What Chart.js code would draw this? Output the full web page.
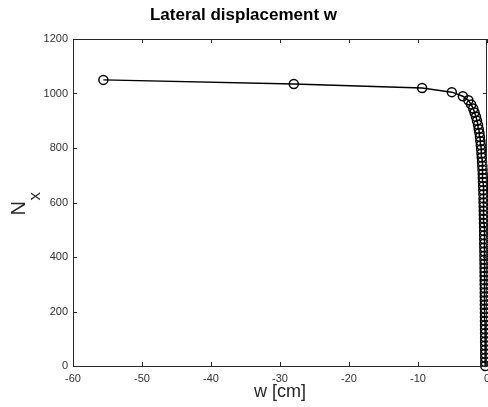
<!DOCTYPE html>
<html>
<head>
<meta charset="utf-8">
<script src="https://cdn.jsdelivr.net/npm/chart.js@4"></script>
<style>
  html, body { margin: 0; padding: 0; background: #fff; overflow: hidden; }
  #wrap { width: 488px; height: 407px; }
</style>
</head>
<body>
<div id="wrap"><canvas id="chart"></canvas></div>
<script>
// Axial load N_x (one value per step)
const loads = [
  0, 15, 30, 45, 60, 75, 90, 105, 120, 135, 150, 165, 180, 195, 210,
  225, 240, 255, 270, 285, 300, 315, 330, 345, 360, 375, 390, 405, 420, 435,
  450, 465, 480, 495, 510, 525, 540, 555, 570, 585, 600, 615, 630, 645, 660,
  675, 690, 705, 720, 735, 750, 765, 780, 795, 810, 825, 840, 855, 870, 885,
  900, 915, 930, 945, 960, 975, 990, 1005, 1020, 1035, 1050
];

// Lateral displacement w [cm]
const displacement = [
  -0.25, -0.252, -0.254, -0.257, -0.26, -0.264, -0.267, -0.27, -0.275, -0.28, -0.285, -0.29, -0.295, -0.30, -0.305,
  -0.31, -0.315, -0.32, -0.325, -0.33, -0.335, -0.34, -0.345, -0.35, -0.355, -0.36, -0.37, -0.375, -0.38, -0.39,
  -0.40, -0.405, -0.41, -0.42, -0.43, -0.44, -0.45, -0.46, -0.47, -0.48, -0.49, -0.50, -0.52, -0.54, -0.56,
  -0.58, -0.60, -0.62, -0.65, -0.68, -0.72, -0.76, -0.80, -0.85, -0.90, -0.96, -1.02, -1.10, -1.20, -1.30,
  -1.45, -1.60, -1.80, -2.00, -2.30, -2.70, -3.50, -5.10, -9.40, -28.0, -55.6
];

const xTicks = [-60, -50, -40, -30, -20, -10, 0];
const yTicks = [0, 200, 400, 600, 800, 1000, 1200];

const AXIS_COLOR = "#262626";
const TICK_FONT  = "'Liberation Sans', Arial, sans-serif";

// box, inward ticks and the axis labels (Octave style)
const boxPlugin = {
  id: "box",
  afterDraw: function(chart) {
    const ctx = chart.ctx;
    const a   = chart.chartArea;
    const sx  = chart.scales.x;
    const sy  = chart.scales.y;
    const len = 4;

    ctx.save();
    ctx.strokeStyle = AXIS_COLOR;
    ctx.lineWidth = 1;
    ctx.strokeRect(a.left + 0.5, a.top + 0.5, a.right - a.left - 1, a.bottom - a.top);

    ctx.beginPath();
    xTicks.forEach(function(v) {
      const px = Math.round(sx.getPixelForValue(v)) + 0.5;
      ctx.moveTo(px, a.bottom); ctx.lineTo(px, a.bottom - len);
      ctx.moveTo(px, a.top);    ctx.lineTo(px, a.top + len);
    });
    yTicks.forEach(function(v) {
      const py = Math.round(sy.getPixelForValue(v)) + 0.5;
      ctx.moveTo(a.left, py);  ctx.lineTo(a.left + len, py);
      ctx.moveTo(a.right, py); ctx.lineTo(a.right - len, py);
    });
    ctx.stroke();

    // x label
    ctx.fillStyle = AXIS_COLOR;
    ctx.textAlign = "center";
    ctx.textBaseline = "middle";
    ctx.font = "18px " + TICK_FONT;
    ctx.fillText("w [cm]", (a.left + a.right) / 2, 392);

    // y label N_x, rotated
    ctx.translate(25, (a.top + a.bottom) / 2 + 13);
    ctx.rotate(-Math.PI / 2);
    ctx.textAlign = "left";
    ctx.textBaseline = "alphabetic";
    ctx.font = "20px " + TICK_FONT;
    ctx.fillText("N", 0, 0);
    ctx.font = "17px " + TICK_FONT;
    ctx.fillText("x", 15, 15);
    ctx.restore();
  }
};

function plainTick(value) {
  return String(value);
}

window.onload = function () {
  const ctx = document.getElementById("chart").getContext("2d");

  const points = loads.map(function(n, i) {
    return { x: displacement[i], y: n };
  });

  new Chart(ctx, {
    type: "line",
    data: {
      datasets: [{
        data: points,
        borderColor: "#000",
        borderWidth: 1.5,
        pointRadius: 4.5,
        pointBorderWidth: 1.5,
        pointBorderColor: "#000",
        pointBackgroundColor: "rgba(0,0,0,0)",
        tension: 0,
        clip: false
      }]
    },
    options: {
      responsive: true,
      maintainAspectRatio: false,
      animation: false,
      layout: { autoPadding: false, padding: { left: 0, right: 1, top: 0, bottom: 0 } },
      plugins: {
        legend: { display: false },
        tooltip: { enabled: false },
        title: {
          display: true,
          text: "Lateral displacement w",
          color: "#000",
          font: { family: TICK_FONT, size: 17, weight: "bold", lineHeight: 1.2 },
          padding: { top: 5, bottom: 13.6 }
        }
      },
      scales: {
        x: {
          type: "linear",
          min: -60, max: 0,
          grid: { display: false, drawTicks: false },
          border: { display: false },
          ticks: {
            stepSize: 10,
            padding: 6,
            color: "#333",
            font: { family: TICK_FONT, size: 11 },
            callback: plainTick
          },
          afterFit: function(s) { s.paddingLeft = 0; s.paddingRight = 0; s.height = 41; }
        },
        y: {
          type: "linear",
          min: 0, max: 1200,
          grid: { display: false, drawTicks: false },
          border: { display: false },
          ticks: {
            stepSize: 200,
            padding: 5,
            color: "#333",
            font: { family: TICK_FONT, size: 11 },
            callback: plainTick
          },
          afterFit: function(s) { s.paddingTop = 0; s.paddingBottom = 0; s.width = 73; }
        }
      }
    },
    plugins: [boxPlugin]
  });
};
</script>
</body>
</html>
